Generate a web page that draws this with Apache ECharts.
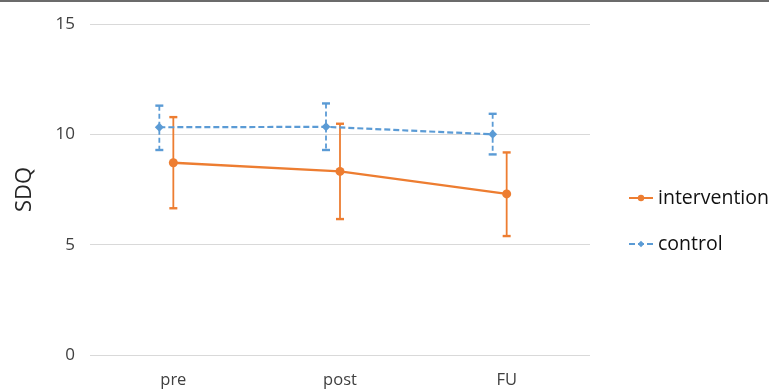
<!DOCTYPE html>
<html><head><meta charset="utf-8">
<script src="https://cdn.jsdelivr.net/npm/echarts@6/dist/echarts.min.js"></script>
<style>html,body{margin:0;padding:0;background:#fff}#c{width:769px;height:389px}</style>
</head><body><div id="c"></div>
<script>
const categories = ['pre', 'post', 'FU'];
const yTicks = [0, 5, 10, 15];
const interventionMean = [8.71, 8.32, 7.30];
const interventionLow = [6.65, 6.16, 5.39];
const interventionHigh = [10.78, 10.48, 9.18];
const controlMean = [10.32, 10.34, 10.00];
const controlLow = [9.29, 9.29, 9.09];
const controlHigh = [11.30, 11.40, 10.93];

const ORANGE = '#ED7D31', BLUE = '#5B9BD5';
const FONT = 'Open Sans';

function errData(lo, hi) { return categories.map((c, i) => [i, lo[i], hi[i]]); }
function errRender(color, dashed) {
  return function (params, api) {
    const x = api.value(0);
    const top = api.coord([x, api.value(2)]);
    const bot = api.coord([x, api.value(1)]);
    const w = 4;
    const style = { stroke: color, lineWidth: 1.8, lineDash: dashed ? [5, 3] : null };
    const cap = { stroke: color, lineWidth: 2.4 };
    return { type: 'group', children: [
      { type: 'line', shape: { x1: top[0], y1: top[1], x2: bot[0], y2: bot[1] }, style: style },
      { type: 'line', shape: { x1: top[0] - w, y1: top[1], x2: top[0] + w, y2: top[1] }, style: cap },
      { type: 'line', shape: { x1: bot[0] - w, y1: bot[1], x2: bot[0] + w, y2: bot[1] }, style: cap }
    ]};
  };
}

const chart = echarts.init(document.getElementById('c'));
chart.setOption({
  animation: false,
  backgroundColor: '#fff',
  textStyle: { fontFamily: FONT },
  graphic: [{ type: 'rect', shape: { x: 0, y: 0, width: 769, height: 2 }, style: { fill: '#6b6b6b' } }],
  legend: {
    orient: 'vertical', left: 628, top: 188, padding: 0, itemGap: 26, itemWidth: 24, itemHeight: 8,
    textStyle: { fontSize: 19.5, color: '#111', fontFamily: FONT },
    data: ['intervention', 'control']
  },
  grid: [
    { left: 90, right: 179, top: 24, bottom: 34 },
    { left: 76, right: 193, top: 24, bottom: 34 }
  ],
  xAxis: [
    { type: 'category', gridIndex: 0, data: categories, boundaryGap: true,
      axisLine: { show: false }, axisTick: { show: false },
      axisLabel: { fontSize: 16.5, color: '#404040', margin: 17, fontFamily: FONT } },
    { type: 'category', gridIndex: 1, data: categories, boundaryGap: true, show: false }
  ],
  yAxis: [
    { type: 'value', gridIndex: 0, min: 0, max: 15, interval: 5,
      name: 'SDQ', nameLocation: 'middle', nameGap: 54,
      nameTextStyle: { fontSize: 22, color: '#262626', fontFamily: FONT },
      axisLabel: { fontSize: 17, color: '#404040', margin: 15, fontFamily: FONT,
        formatter: v => yTicks.includes(v) ? String(v) : '' },
      splitLine: { lineStyle: { color: '#d9d9d9', width: 1 } },
      axisLine: { show: false }, axisTick: { show: false } },
    { type: 'value', gridIndex: 1, min: 0, max: 15, interval: 5, show: false, splitLine: { show: false } }
  ],
  series: [
    { name: 'control', type: 'line', xAxisIndex: 1, yAxisIndex: 1, data: controlMean,
      symbol: 'diamond', symbolSize: 9, z: 3,
      lineStyle: { color: BLUE, width: 2.2, type: [6, 3] }, itemStyle: { color: BLUE } },
    { name: 'control-err', type: 'custom', xAxisIndex: 1, yAxisIndex: 1,
      data: errData(controlLow, controlHigh), renderItem: errRender(BLUE, true), z: 2 },
    { name: 'intervention', type: 'line', xAxisIndex: 0, yAxisIndex: 0, data: interventionMean,
      symbol: 'circle', symbolSize: 9, z: 4,
      lineStyle: { color: ORANGE, width: 2.4 }, itemStyle: { color: ORANGE } },
    { name: 'intervention-err', type: 'custom', xAxisIndex: 0, yAxisIndex: 0,
      data: errData(interventionLow, interventionHigh), renderItem: errRender(ORANGE, false), z: 3 }
  ]
});
</script></body></html>
